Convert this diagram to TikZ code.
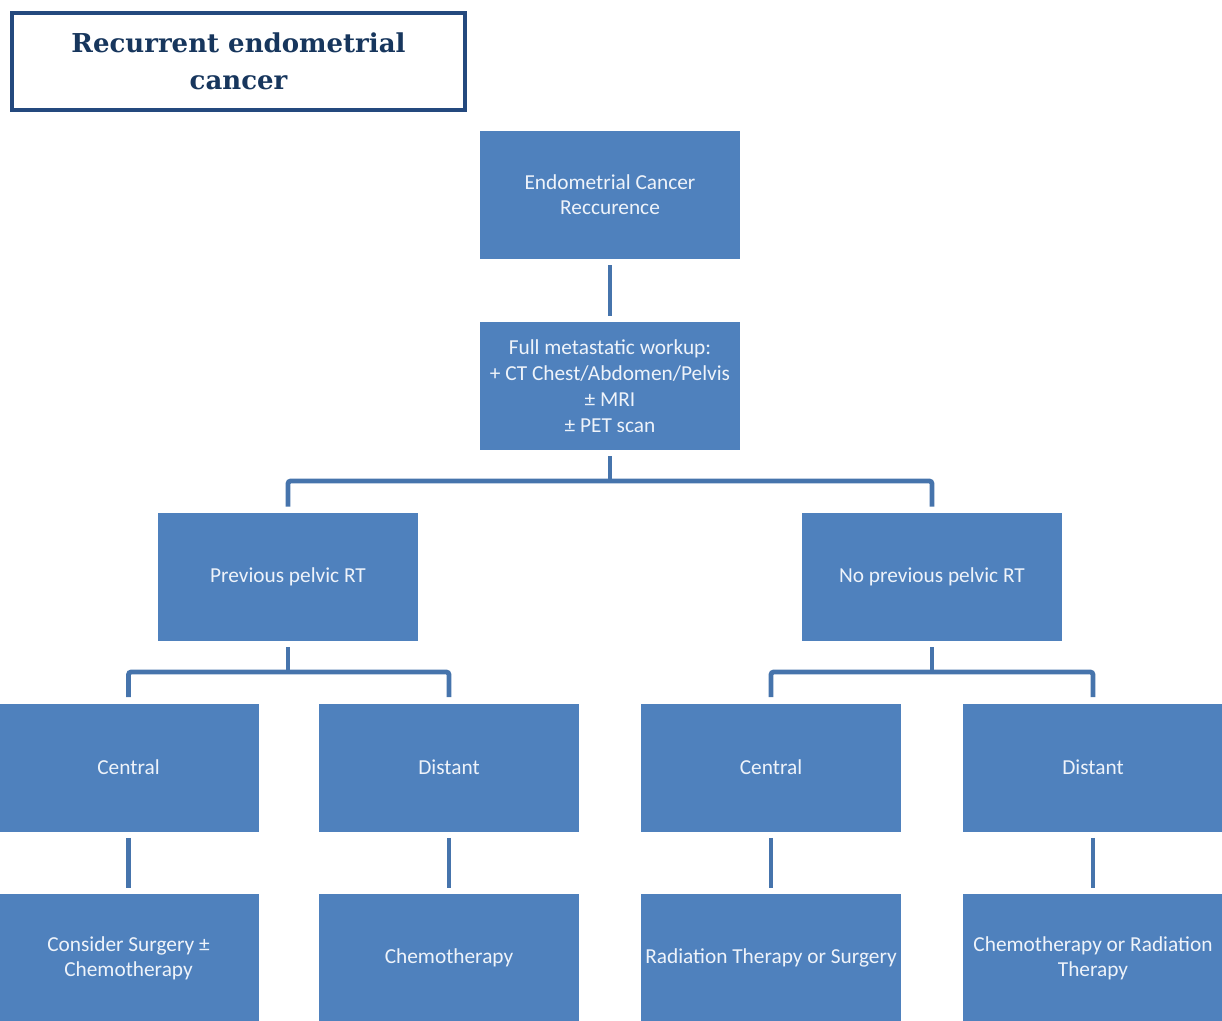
\documentclass[tikz,border=0pt]{standalone}
\usepackage{fontspec}
\newfontfamily\boxfont{Carlito}
\newfontfamily\headfont{DejaVu Serif}
\usepackage{xcolor}
\usetikzlibrary{positioning}
\definecolor{boxblue}{HTML}{4F81BD}
\definecolor{linkblue}{HTML}{4674AC}
\definecolor{headframe}{HTML}{24497E}
\definecolor{headink}{HTML}{17365D}
\definecolor{boxink}{HTML}{EEF3FA}

\begin{document}
\begin{tikzpicture}[x=0.75pt,y=-0.75pt,font=\boxfont\fontsize{16}{19.5}\selectfont]

% =========================
% Styles
% =========================
\tikzset{
    headbox/.style={draw=headframe, line width=3pt, fill=white, text=headink, minimum width=339.75pt, minimum height=72.75pt, inner sep=0pt},
    card/.style={fill=boxblue, text=boxink, minimum width=195pt, minimum height=96pt, inner sep=0pt},
    link/.style={draw=linkblue, line width=3.6pt, shorten <=4.5pt, shorten >=4.5pt},
    branch/.style={link, rounded corners=2pt}
}

\useasboundingbox (0,0) rectangle (1222,1021);

% =========================
% Title
% =========================
\node[headbox] (head) at (238.5,61) {\parbox{330pt}{\centering\headfont\bfseries\fontsize{19.5}{27.75}\selectfont Recurrent endometrial\\ cancer}};

% =========================
% Recurrence and workup
% =========================
\node[card] (recur) at (610,195) {\parbox{190pt}{\centering\fontsize{16}{18.5}\selectfont Endometrial Cancer\\ Reccurence}};
\node[card] (workup) at (610,386) {\parbox{190pt}{\centering Full metastatic workup:\\ + CT Chest/Abdomen/Pelvis\\ ± MRI\\ ± PET scan}};

\draw[link] (recur) -- (workup);

% =========================
% Previous pelvic RT or not
% =========================
\node[card] (prev) at (288,577) {Previous pelvic RT};
\node[card] (noprev) at (932,577) {No previous pelvic RT};

\coordinate (fork1) at (610,481);
\draw[link, shorten >=0pt] (workup) -- (fork1);
\draw[branch] (prev.north) |- (fork1) -| (noprev.north);

% =========================
% Site of recurrence
% =========================
\node[card] (prevcen) at (128.5,767.5) {Central};
\node[card] (prevdist) at (449,767.5) {Distant};
\node[card] (nocen) at (771,767.5) {Central};
\node[card] (nodist) at (1093,767.5) {Distant};

\coordinate (fork2) at (288,672);
\coordinate (fork3) at (932,672);
\draw[link, shorten >=0pt] (prev) -- (fork2);
\draw[link, shorten >=0pt] (noprev) -- (fork3);
\draw[branch] (prevcen.north) |- (fork2) -| (prevdist.north);
\draw[branch] (nocen.north) |- (fork3) -| (nodist.north);

% =========================
% Treatment
% =========================
\node[card] (prevcenrx) at (128.5,958) {\parbox{190pt}{\centering\fontsize{16}{18.5}\selectfont Consider Surgery ±\\ Chemotherapy}};
\node[card] (prevdistrx) at (449,958) {Chemotherapy};
\node[card] (nocenrx) at (771,958) {Radiation Therapy or Surgery};
\node[card] (nodistrx) at (1093,958) {\parbox{190pt}{\centering\fontsize{16}{18.5}\selectfont Chemotherapy or Radiation\\ Therapy}};

\foreach \a/\b in {prevcen/prevcenrx, prevdist/prevdistrx, nocen/nocenrx, nodist/nodistrx} {
    \draw[link] (\a) -- (\b);
}

\end{tikzpicture}
\end{document}
